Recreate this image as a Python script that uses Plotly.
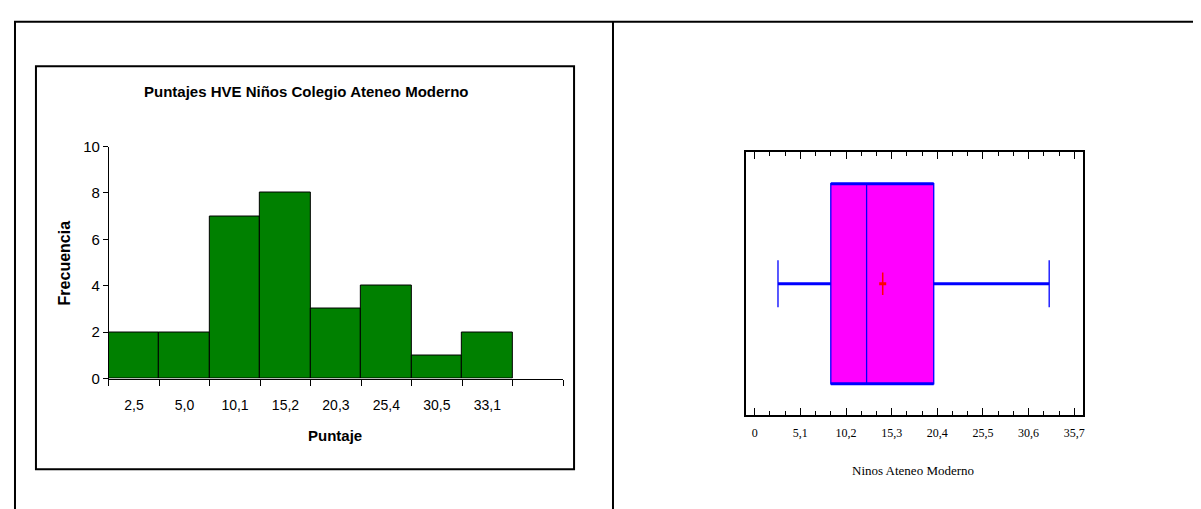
import plotly.graph_objects as go

# ---- data ----
hist_labels = ["2,5", "5,0", "10,1", "15,2", "20,3", "25,4", "30,5", "33,1"]
hist_freq = [2, 2, 7, 8, 3, 4, 1, 2]
y_ticks = [0, 2, 4, 6, 8, 10]

box_lower = 2.6
box_q1 = 8.5
box_median = 12.5
box_q3 = 20.0
box_upper = 32.9
box_mean = 14.3
box_tickvals = [0, 5.1, 10.2, 15.3, 20.4, 25.5, 30.6, 35.7]
box_ticktext = ["0", "5,1", "10,2", "15,3", "20,4", "25,5", "30,6", "35,7"]

W, H = 1201, 509
BOX_W = 1.0


def px(x):
    return x / W


def py(y):
    return 1 - y / H


sans = "Liberation Sans, Arial, sans-serif"
serif = "Liberation Serif, Times New Roman, serif"
BLUE = "#0000FF"

fig = go.Figure()

# histogram bars
fig.add_trace(go.Bar(
    x=list(range(len(hist_freq))), y=hist_freq, width=1,
    marker=dict(color="#008000", line=dict(color="black", width=1)),
    xaxis="x", yaxis="y", showlegend=False, hoverinfo="skip"))

# box plot
fig.add_trace(go.Box(
    y=[0], q1=[box_q1], median=[box_median], q3=[box_q3],
    lowerfence=[box_lower], upperfence=[box_upper],
    orientation="h", width=BOX_W, whiskerwidth=0.235,
    fillcolor="#FF00FF", line=dict(color=BLUE, width=1.3),
    xaxis="x2", yaxis="y2", showlegend=False, hoverinfo="skip"))
# thicker whisker lines and thicker top / bottom box edges
half = BOX_W / 2
fig.add_trace(go.Scatter(
    x=[box_lower, box_q1, None, box_q3, box_upper, None,
       box_q1, box_q3, None, box_q1, box_q3],
    y=[0, 0, None, 0, 0, None, half, half, None, -half, -half],
    mode="lines", line=dict(color=BLUE, width=3),
    xaxis="x2", yaxis="y2", showlegend=False, hoverinfo="skip"))
# mean marker
fig.add_trace(go.Scatter(
    x=[box_mean], y=[0], mode="markers",
    marker=dict(symbol="line-ns", size=16, line=dict(color="red", width=1.5)),
    xaxis="x2", yaxis="y2", showlegend=False, hoverinfo="skip"))
fig.add_trace(go.Scatter(
    x=[box_mean], y=[0], mode="markers",
    marker=dict(symbol="line-ew", size=5, line=dict(color="red", width=3)),
    xaxis="x2", yaxis="y2", showlegend=False, hoverinfo="skip"))

n = len(hist_freq)
fig.update_layout(
    width=W, height=H, margin=dict(l=0, r=0, t=0, b=0),
    paper_bgcolor="white", plot_bgcolor="white",
    font=dict(family=sans, color="black"),
    bargap=0,
    xaxis=dict(domain=[px(101), px(556)], range=[-0.5, n + 0.5],
               tickvals=list(range(n)), ticktext=hist_labels, ticks="",
               ticklabelstandoff=14,
               showline=True, linecolor="black", linewidth=1, showgrid=False,
               zeroline=False, tickfont=dict(family=sans, size=14),
               minor=dict(tickvals=[i - 0.5 for i in range(n + 2)], ticks="outside",
                          ticklen=6, tickcolor="black", showgrid=False),
               anchor="y", fixedrange=True),
    yaxis=dict(domain=[py(374), py(134)], range=[0, 10], tickvals=y_ticks,
               ticks="outside", ticklen=5, tickcolor="black",
               showline=True, linecolor="black", linewidth=1, showgrid=False,
               zeroline=False, tickfont=dict(family=sans, size=15),
               anchor="x", fixedrange=True),
    xaxis2=dict(domain=[px(739), px(1077)], range=[-1.0, 36.7],
                tickvals=box_tickvals, ticktext=box_ticktext,
                ticks="inside", ticklen=7, tickwidth=1, tickcolor="black",
                ticklabelstandoff=5,
                showline=True, mirror="allticks", linecolor="black", linewidth=2,
                showgrid=False, zeroline=False,
                tickfont=dict(family=serif, size=12),
                minor=dict(tick0=0, dtick=1.7, ticks="inside", ticklen=4,
                           tickcolor="black", showgrid=False),
                anchor="y2", fixedrange=True),
    yaxis2=dict(domain=[py(412), py(140)], range=[-0.657, 0.657],
                showticklabels=False, ticks="", showline=True, mirror=True,
                linecolor="black", linewidth=2, showgrid=False, zeroline=False,
                anchor="x2", fixedrange=True),
    shapes=[
        # outer table lines
        dict(type="line", xref="paper", yref="paper", x0=px(6), x1=1, y0=py(5), y1=py(5),
             line=dict(color="black", width=2)),
        dict(type="line", xref="paper", yref="paper", x0=px(7), x1=px(7), y0=py(5), y1=0,
             line=dict(color="black", width=2)),
        dict(type="line", xref="paper", yref="paper", x0=px(606), x1=px(606), y0=py(5), y1=0,
             line=dict(color="black", width=2)),
        # left chart frame
        dict(type="rect", xref="paper", yref="paper", x0=px(28), x1=px(567),
             y0=py(468), y1=py(51), line=dict(color="black", width=2)),
    ],
    annotations=[
        dict(text="<b>Puntajes HVE Niños Colegio Ateneo Moderno</b>", xref="paper", yref="paper",
             x=px(298), y=py(77), showarrow=False, font=dict(family=sans, size=15),
             xanchor="center", yanchor="middle"),
        dict(text="<b>Frecuencia</b>", xref="paper", yref="paper",
             x=px(57), y=py(254), textangle=-90, showarrow=False,
             font=dict(family=sans, size=16), xanchor="center", yanchor="middle"),
        dict(text="<b>Puntaje</b>", xref="paper", yref="paper",
             x=px(328), y=py(433), showarrow=False,
             font=dict(family=sans, size=15), xanchor="center", yanchor="middle"),
        dict(text="Ninos Ateneo Moderno", xref="paper", yref="paper",
             x=px(907), y=py(469), showarrow=False,
             font=dict(family=serif, size=13), xanchor="center", yanchor="middle"),
    ],
)

fig.write_html("out.html")
